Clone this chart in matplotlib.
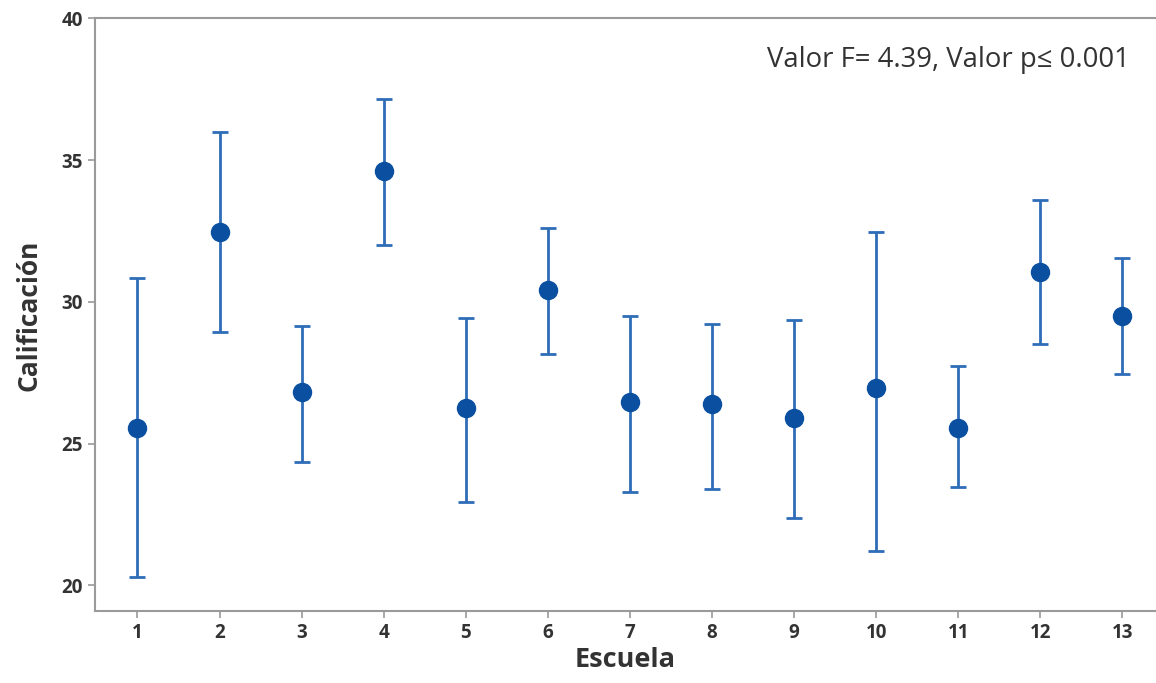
import numpy as np
import matplotlib
matplotlib.use("Agg")
import matplotlib.pyplot as plt

plt.rcParams['font.family'] = ['Open Sans', 'DejaVu Sans']

escuela = np.arange(1, 14)
media = [25.55, 32.46, 26.82, 34.62, 26.25, 30.43, 26.48, 26.38, 25.89, 26.97, 25.55, 31.05, 29.51]
inferior = [20.29, 28.94, 24.36, 32.02, 22.95, 28.17, 23.30, 23.38, 22.38, 21.22, 23.45, 28.51, 27.46]
superior = [30.85, 35.98, 29.15, 37.15, 29.43, 32.60, 29.50, 29.22, 29.37, 32.48, 27.74, 33.58, 31.54]

media = np.array(media)
err = [media - np.array(inferior), np.array(superior) - media]

fig = plt.figure(figsize=(11.56, 6.83), dpi=100)
ax = fig.add_axes([0.082, 0.105, 0.918, 0.868])

ax.errorbar(escuela, media, yerr=err, fmt='none', ecolor='#2E6DB8',
            elinewidth=2.0, capsize=6, capthick=2.0, zorder=2)
ax.plot(escuela, media, 'o', color='#0A4FA0', markersize=13, zorder=3)

ax.set_xlim(0.48, 13.41)
ax.set_ylim(19.08, 40)
ax.set_xticks(escuela)
ax.set_yticks([20, 25, 30, 35, 40])

for s in ['left', 'bottom', 'top']:
    ax.spines[s].set_color('#9a9a9a')
    ax.spines[s].set_linewidth(1.5)
ax.spines['right'].set_visible(False)

ax.tick_params(axis='both', colors='#9a9a9a', length=5, width=1.2,
               labelcolor='#333333', labelsize=13.5)
for lab in ax.get_xticklabels() + ax.get_yticklabels():
    lab.set_fontweight('bold')

ax.set_xlabel('Escuela', fontsize=19.5, fontweight='bold', color='#333333', labelpad=3)
ax.set_ylabel('Calificación', fontsize=19, fontweight='bold', color='#333333', labelpad=14)

ax.text(0.975, 0.93, 'Valor F= 4.39, Valor p≤ 0.001', transform=ax.transAxes,
        ha='right', va='center', fontsize=19.8, color='#333333')

fig.savefig('out.png', dpi=100)
